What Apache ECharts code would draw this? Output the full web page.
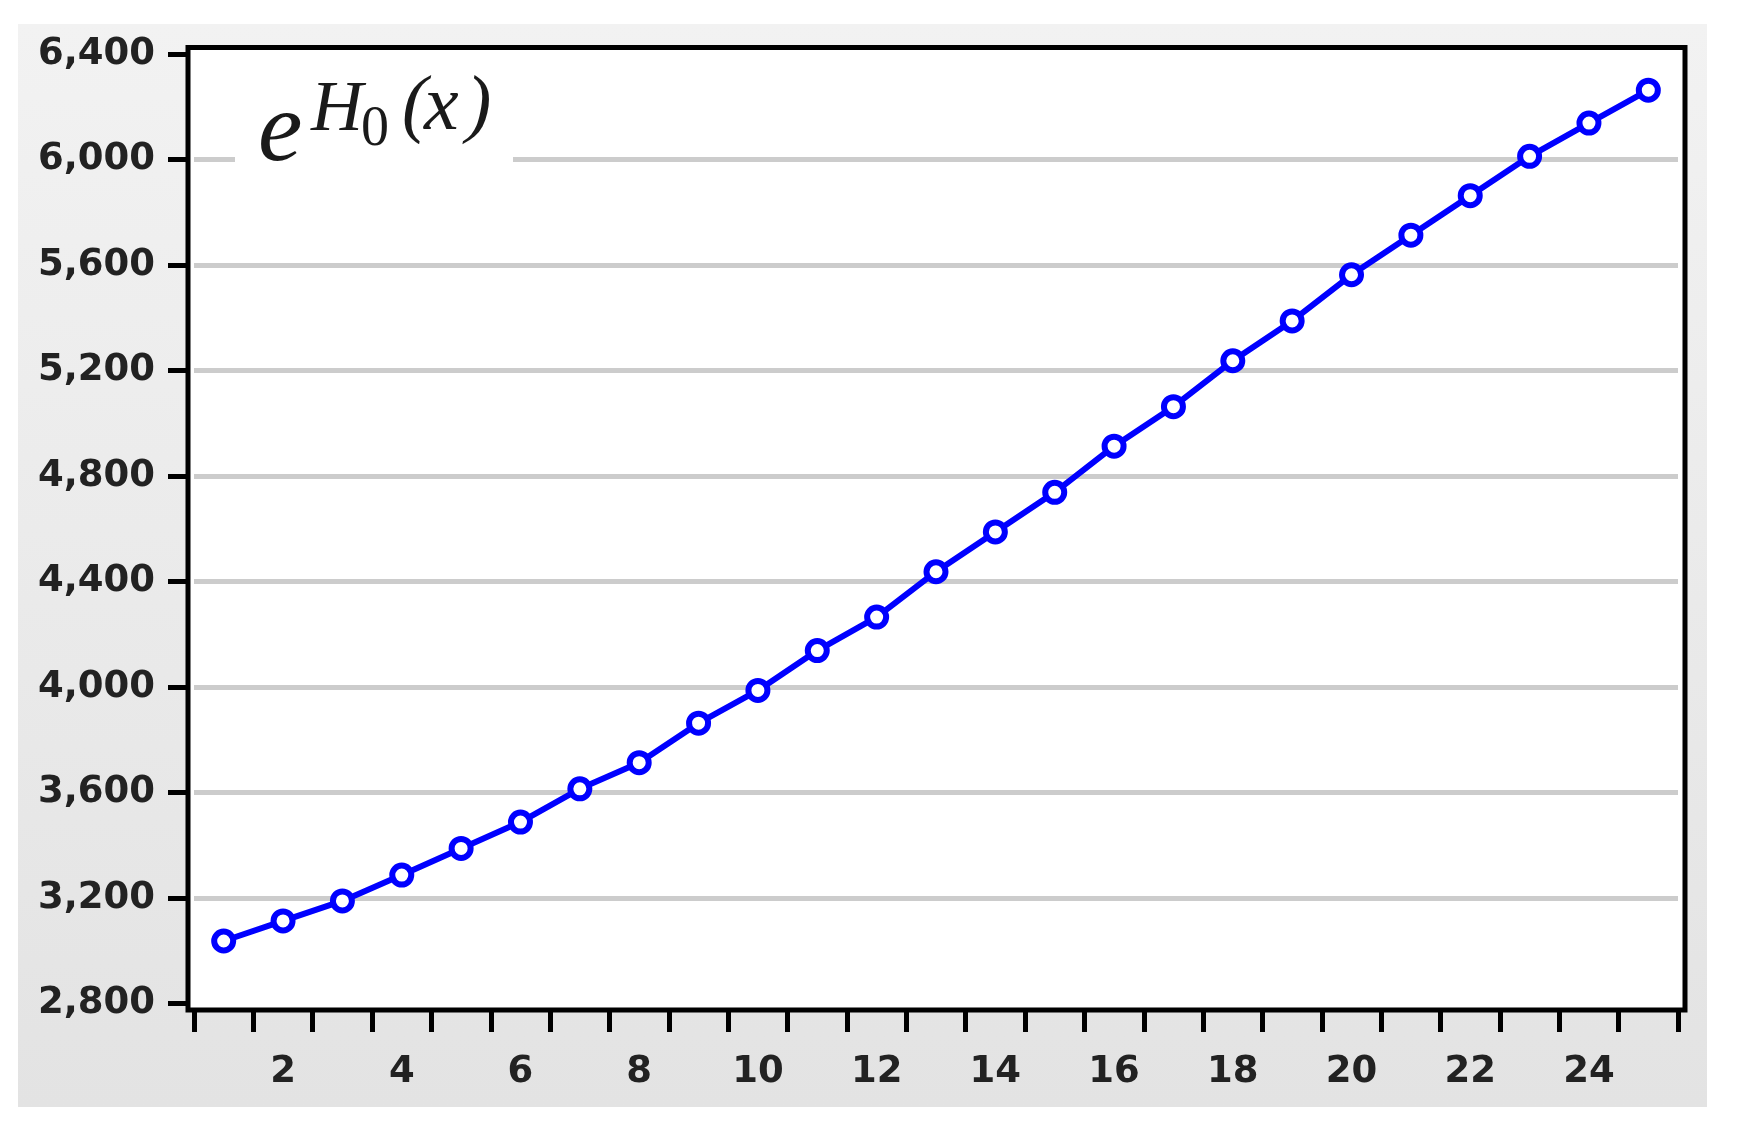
<!DOCTYPE html>
<html>
<head>
<meta charset="utf-8">
<title>e^H0(x)</title>
<script src="https://cdn.jsdelivr.net/npm/echarts@6/dist/echarts.min.js"></script>
<style>
  html, body { margin: 0; padding: 0; background: #fff; }
  #chart { width: 1737px; height: 1139px; }
</style>
</head>
<body>
<div id="chart"></div>
<script>
  // x categories 1..25
  const categories = ['1', '2', '3', '4', '5', '6', '7', '8', '9', '10', '11', '12', '13',
    '14', '15', '16', '17', '18', '19', '20', '21', '22', '23', '24', '25'];
  const values = [3037, 3113, 3189, 3287, 3388, 3488, 3614, 3713, 3863, 3987, 4138, 4265, 4437,
    4588, 4738, 4913, 5063, 5237, 5388, 5563, 5713, 5863, 6012, 6138, 6263];
  const xLabels = ['2', '4', '6', '8', '10', '12', '14', '16', '18', '20', '22', '24'];
  const yMin = 2800, yMax = 6400, yStep = 400;

  // hide the grey line at min and max, the frame sits there
  let nLines = (yMax - yMin) / yStep + 1;
  let splitColors = [];
  for (let i = 0; i < nLines; i++) {
    splitColors.push(i === 0 || i === nLines - 1 ? 'rgba(0,0,0,0)' : '#cccccc');
  }

  const labelFont = {
    fontFamily: 'DejaVu Sans',
    fontWeight: 'bold',
    fontSize: 37,
    color: '#222'
  };
  function mf(s) { return 'italic ' + s + 'px "Liberation Serif"'; }

  let myChart = echarts.init(document.getElementById('chart'));
  let option = {
    animation: false,
    backgroundColor: '#fff',
    grid: {
      left: 194,
      top: 54,
      width: 1484,
      height: 949.5
    },
    xAxis: {
      type: 'category',
      data: categories,
      boundaryGap: true,
      offset: 6.5,
      axisLine: { show: false },
      axisTick: {
        show: true,
        interval: 0,
        length: 22,
        lineStyle: { color: '#000', width: 5 }
      },
      axisLabel: Object.assign({
        margin: 44,
        interval: function (i, v) { return xLabels.indexOf(v) >= 0; }
      }, labelFont),
      splitLine: { show: false }
    },
    yAxis: {
      type: 'value',
      min: yMin,
      max: yMax,
      interval: yStep,
      offset: 6,
      axisLine: { show: false },
      axisTick: {
        show: true,
        length: 20,
        lineStyle: { color: '#000', width: 5 }
      },
      axisLabel: Object.assign({
        margin: 33,
        formatter: function (v) { return v.toLocaleString('en-US'); }
      }, labelFont),
      splitLine: {
        show: true,
        lineStyle: { color: splitColors, width: 5 }
      }
    },
    graphic: [
      {
        type: 'rect', z: -20, silent: true,
        shape: { x: 18, y: 24, width: 1689, height: 1083 },
        style: {
          fill: new echarts.graphic.LinearGradient(0, 0, 0, 1, [
            { offset: 0, color: '#f2f2f2' },
            { offset: 1, color: '#e3e3e3' }
          ])
        }
      },
      {
        type: 'rect', z: -19, silent: true,
        shape: { x: 188, y: 47.5, width: 1497, height: 962.5 },
        style: { fill: '#fff' }
      },
      {
        type: 'rect', z: 10, silent: true,
        shape: { x: 188, y: 47.5, width: 1497, height: 962.5 },
        style: { fill: 'none', stroke: '#000', lineWidth: 5 }
      },
      // white box behind the formula
      {
        type: 'rect', z: 5, silent: true,
        shape: { x: 235, y: 62, width: 278, height: 115 },
        style: { fill: '#fff' }
      },
      {
        type: 'text', z: 6, silent: true,
        style: { text: 'e', x: 258, y: 134, font: mf(100), fill: '#1a1a1a', verticalAlign: 'middle' }
      },
      {
        type: 'text', z: 6, silent: true,
        style: { text: 'H', x: 311, y: 111, font: mf(72), fill: '#1a1a1a', verticalAlign: 'middle' }
      },
      {
        type: 'text', z: 6, silent: true,
        style: { text: '0', x: 361, y: 130, font: '56px "Liberation Serif"', fill: '#1a1a1a', verticalAlign: 'middle' }
      },
      {
        type: 'text', z: 6, silent: true,
        style: { text: '(', x: 402, y: 108, font: mf(76), fill: '#1a1a1a', verticalAlign: 'middle' }
      },
      {
        type: 'text', z: 6, silent: true,
        style: { text: 'x', x: 424, y: 108, font: mf(78), fill: '#1a1a1a', verticalAlign: 'middle' }
      },
      {
        type: 'text', z: 6, silent: true,
        style: { text: ')', x: 466, y: 108, font: mf(76), fill: '#1a1a1a', verticalAlign: 'middle' }
      }
    ],
    series: [{
      name: 'eH0',
      type: 'line',
      data: values,
      symbol: 'circle',
      symbolSize: 19,
      lineStyle: { color: '#0000ff', width: 6 },
      itemStyle: { color: '#ffffff', borderColor: '#0000ff', borderWidth: 6 },
      z: 3
    }]
  };
  myChart.setOption(option);
</script>
</body>
</html>
